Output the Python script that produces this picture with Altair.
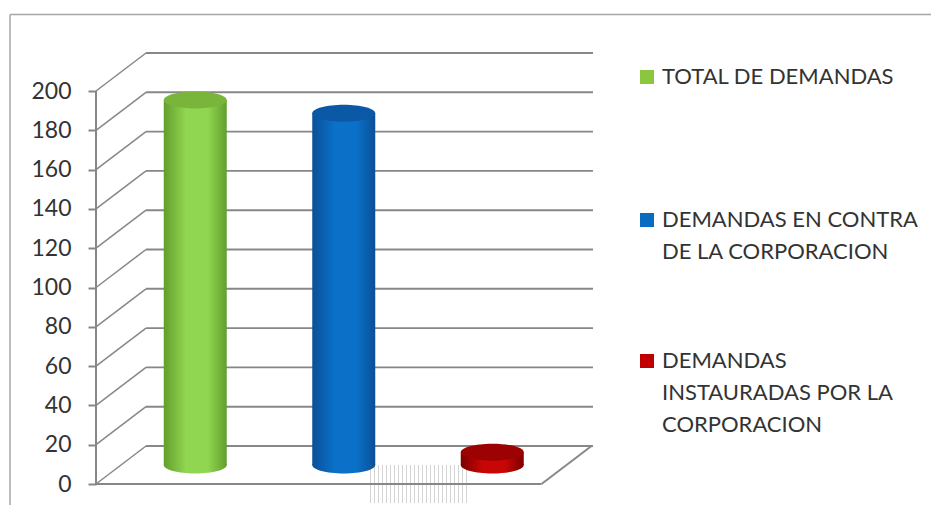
import altair as alt
import pandas as pd

categories = ["TOTAL DE DEMANDAS", "DEMANDAS EN CONTRA\nDE LA CORPORACION",
              "DEMANDAS\nINSTAURADAS POR  LA\nCORPORACION"]
values = [185.7, 179.0, 6.5]
ticks = [0, 20, 40, 60, 80, 100, 120, 140, 160, 180, 200]
shades = [("#639e2c", "#90d650", "#78b53a"),
          ("#0a5098", "#0a70c8", "#0a58a6"),
          ("#7c0000", "#c80606", "#9c0202")]
swatches = ["#8cc63f", "#0a6cc0", "#c00000"]
legend_top = [69, 212, 353]

PX_X = 148.5
PX_Y = 1.965
DEPTH_X = 50 / PX_X
DEPTH_Y = 38 / PX_Y
HALF = 31.5 / PX_X
GRID = "#878787"
INK = "#333333"
FONT = "Lato"
ELLIPSE = "M-1,0A1,0.27,0,1,1,1,0A1,0.27,0,1,1,-1,0Z"

xs = alt.Scale(domain=[(8 - 96) / PX_X, (931 - 96) / PX_X], nice=False, zero=False)
ys = alt.Scale(domain=[(484 - 505) / PX_Y, (484 - 8) / PX_Y], nice=False, zero=False)
X = lambda f: alt.X(f, type="quantitative", scale=xs, axis=None)
Y = lambda f: alt.Y(f, type="quantitative", scale=ys, axis=None)

def segs(rows):
    return alt.Chart(pd.DataFrame(rows, columns=["x", "x2", "y", "y2"]))

tdf = pd.DataFrame({"v": ticks})

# y axis: real ticks and labels, pulled inward to the front-left edge
axis_layer = alt.Chart(tdf).mark_rule(opacity=0).encode(
    y=alt.Y("v:Q", scale=ys, axis=alt.Axis(
        values=ticks, domain=False, grid=False, title=None, offset=-88,
        tickSize=8, tickColor=GRID, tickWidth=2, labelFontSize=23, labelFont=FONT,
        labelColor=INK, labelPadding=17, format="d")),
)

back = [(DEPTH_X, 3 + DEPTH_X + 0.01, t + DEPTH_Y, t + DEPTH_Y) for t in ticks]
slant = [(0, DEPTH_X, t, t + DEPTH_Y) for t in ticks]
frame_floor = [(0, 3, 0, 0), (3, 3 + DEPTH_X, 0, DEPTH_Y), (0, 0, 0, 200)]

def rule_layer(rows, **kw):
    return segs(rows).mark_rule(color=GRID, **kw).encode(
        x=X("x"), x2="x2:Q", y=Y("y"), y2="y2:Q")

grid_back = rule_layer(back, strokeWidth=1.9)
grid_slant = rule_layer(slant, strokeWidth=1.5)
floor = rule_layer(frame_floor, strokeWidth=2)

# faint striped scan artefact under the floor
stripes = alt.Chart(pd.DataFrame({"a": [0]})).mark_rule(
    color="#d4d4d4", strokeWidth=38, strokeDash=[1, 3]
).encode(x=alt.value(362), x2=alt.value(462), y=alt.value(476))

border = alt.Chart(pd.DataFrame({"a": [0]}))
frame_top = border.mark_rule(color="#a6a6a6", strokeWidth=1.5).encode(
    x=alt.value(2), x2=alt.value(923), y=alt.value(6.5))
frame_left = border.mark_rule(color="#a6a6a6", strokeWidth=1.5).encode(
    x=alt.value(2), y=alt.value(6.5), y2=alt.value(497))

layers = [axis_layer, stripes, grid_back, grid_slant, floor, frame_top, frame_left]

# cylinders
for i, (name, val, (dark, light, top)) in enumerate(zip(categories, values, shades)):
    centre = i + 0.5 + DEPTH_X / 2
    base = DEPTH_Y / 2
    d = pd.DataFrame({"x": [centre - HALF], "x2": [centre + HALF], "cx": [centre],
                      "y": [base], "y2": [base + val]})
    side = alt.LinearGradient(gradient="linear", x1=0, x2=1, y1=0, y2=0, stops=[
        alt.GradientStop(color=dark, offset=0),
        alt.GradientStop(color=light, offset=0.35),
        alt.GradientStop(color=light, offset=0.7),
        alt.GradientStop(color=dark, offset=1)])
    cap = alt.LinearGradient(gradient="linear", x1=0, x2=1, y1=0, y2=0, stops=[
        alt.GradientStop(color=top, offset=0),
        alt.GradientStop(color=top, offset=1)])
    chart_d = alt.Chart(d)
    layers += [
        chart_d.mark_point(shape=ELLIPSE, size=3969, filled=True, fill=side,
                           strokeWidth=0, opacity=1).encode(x=X("cx"), y=Y("y")),
        chart_d.mark_rect(fill=side).encode(x=X("x"), x2="x2:Q", y=Y("y"), y2="y2:Q"),
        chart_d.mark_point(shape=ELLIPSE, size=3969, filled=True, fill=cap,
                           strokeWidth=0, opacity=1).encode(x=X("cx"), y=Y("y2")),
    ]

# legend
leg = pd.DataFrame({"label": categories, "c": swatches, "top": legend_top})
layers.append(alt.Chart(leg).mark_square(size=196, opacity=1).encode(
    x=alt.value(639), y=alt.Y("top:Q", scale=None),
    color=alt.Color("c:N", scale=None, legend=None)))
layers.append(alt.Chart(leg).mark_text(
    align="left", baseline="middle", fontSize=22, font=FONT, color=INK,
    lineBreak="\n", lineHeight=32, dy=0
).encode(x=alt.value(654), y=alt.Y("top:Q", scale=None), text="label:N"))

chart = alt.layer(*layers).resolve_axis(y="independent").properties(
    width=923, height=497, padding=0, autosize=alt.AutoSizeParams(type="none"),
    background="white",
).configure_view(stroke=None)

chart.save("out.html", embed_options={"renderer": "svg", "actions": False})
